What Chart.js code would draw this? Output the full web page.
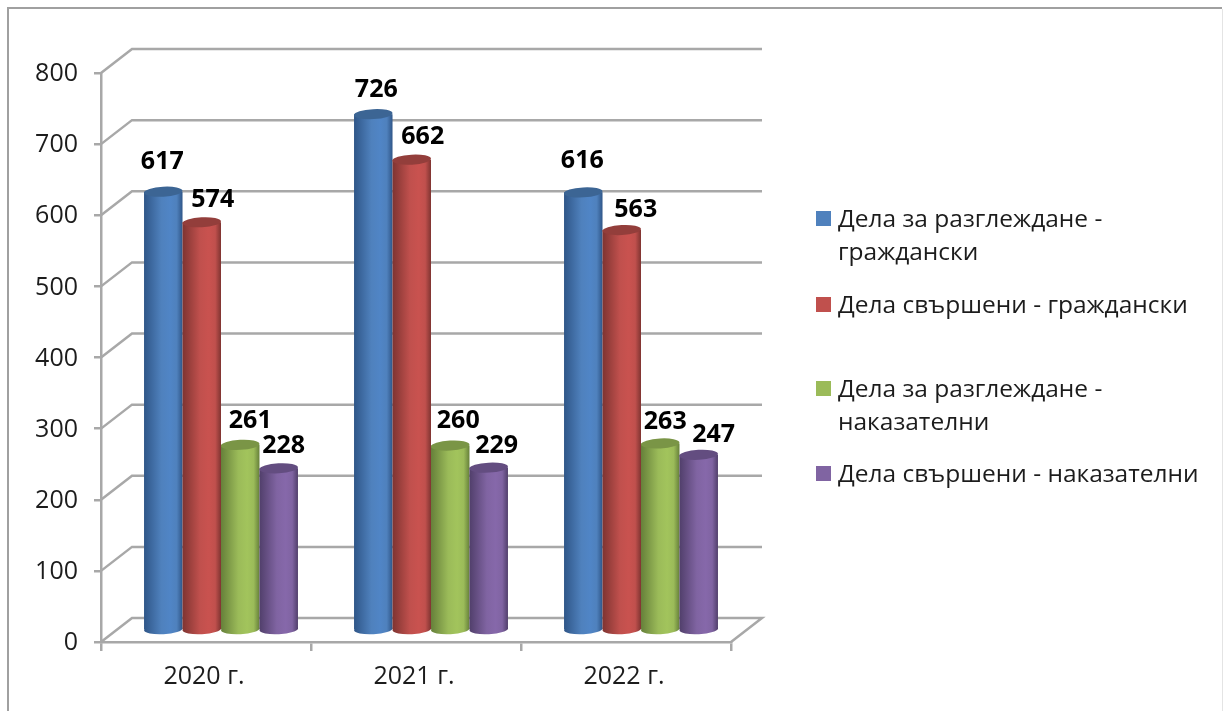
<!DOCTYPE html>
<html><head><meta charset="utf-8">
<script src="https://cdn.jsdelivr.net/npm/chart.js@4"></script>
<style>html,body{margin:0;padding:0;background:#fff}canvas{display:block}</style>
</head><body><div style="width:1225px;height:711px;position:relative"><canvas id="c"></canvas></div>
<script>
const categories = ['2020 г.', '2021 г.', '2022 г.'];
const civilReview = [617, 726, 616];
const civilDone = [574, 662, 563];
const criminalReview = [261, 260, 263];
const criminalDone = [228, 229, 247];
const yTicks = [0, 100, 200, 300, 400, 500, 600, 700, 800];
const seriesNames = ['Дела за разглеждане - граждански', 'Дела свършени - граждански', 'Дела за разглеждане - наказателни', 'Дела свършени - наказателни'];
const legendLines = [['Дела за разглеждане -', 'граждански'], ['Дела свършени - граждански'], ['Дела за разглеждане -', 'наказателни'], ['Дела свършени - наказателни']];
const legendY = [220, 306, 390, 475];
const baseColors = ['#4F81BD', '#C0504D', '#9BBB59', '#8064A2'];
const lightColors = ['#5085c6', '#c9524f', '#a2c45c', '#8668aa'];
const darkEdge = ['#2f5688', '#7f3431', '#66803a', '#513f6b'];
const topColors = ['#3c6594', '#933e3b', '#7a9546', '#634d80'];
const labelOffsets = [
  [[-1,-30],[3,-24],[-1,-31]],
  [[11,-22],[11,-23],[14,-20]],
  [[10,-24],[8,-25],[5,-22]],
  [[5,-22],[8,-22],[15,-20]]
];
const FONT = '"Open Sans", sans-serif';
const GRID = '#a8a8a8', TEXT = '#1c1c1c';
const depth = {x: 31, y: 24}, shift = {x: 15, y: -11.5};

const scene = {
  id: 'scene',
  beforeDraw(chart) {
    const {ctx, chartArea: a, scales: {y}} = chart;
    ctx.save();
    ctx.fillStyle = '#fff'; ctx.fillRect(0, 0, chart.width, chart.height);
    ctx.strokeStyle = '#a0a0a0'; ctx.lineWidth = 2;
    ctx.beginPath(); ctx.moveTo(8, 711); ctx.lineTo(8, 8); ctx.lineTo(1222, 8); ctx.stroke();
    ctx.strokeStyle = '#e4e4e4'; ctx.lineWidth = 1;
    ctx.beginPath(); ctx.moveTo(1222.5, 9); ctx.lineTo(1222.5, 711); ctx.stroke();
    ctx.strokeStyle = GRID; ctx.lineWidth = 2.5;
    yTicks.forEach(v => {
      const py = y.getPixelForValue(v);
      ctx.beginPath();
      ctx.moveTo(a.left, py);
      ctx.lineTo(a.left + depth.x, py - depth.y);
      ctx.lineTo(a.right + depth.x, py - depth.y);
      if (v === 0) ctx.lineTo(a.right, py);
      ctx.stroke();
    });
    ctx.restore();
  },
  beforeDatasetsDraw(chart) {
    const {ctx} = chart;
    const metas = chart.getSortedVisibleDatasetMetas();
    const ry = 5, tilt = -0.055;
    ctx.save();
    ctx.translate(shift.x, shift.y);
    metas.forEach((meta, i) => {
      meta.data.forEach(bar => {
        const {x, y, base, width} = bar.getProps(['x','y','base','width'], true);
        const l = x - width/2, r = x + width/2;
        const g = ctx.createLinearGradient(l, 0, r, 0);
        g.addColorStop(0, darkEdge[i]);
        g.addColorStop(0.45, baseColors[i]);
        g.addColorStop(0.68, lightColors[i]);
        g.addColorStop(0.85, baseColors[i]);
        g.addColorStop(1, darkEdge[i]);
        ctx.fillStyle = g;
        ctx.beginPath(); ctx.ellipse(x, base, width/2, ry, tilt, 0, Math.PI*2); ctx.fill();
        bar.options = Object.assign({}, bar.options, {backgroundColor: g, borderWidth: 0});
        bar.draw(ctx);
        ctx.fillStyle = topColors[i];
        ctx.beginPath(); ctx.ellipse(x, y, width/2, ry, tilt, 0, Math.PI*2); ctx.fill();
      });
    });
    ctx.restore();
    ctx.save();
    ctx.font = 'bold 25px ' + FONT;
    ctx.fillStyle = '#000';
    ctx.textAlign = 'center'; ctx.textBaseline = 'middle';
    metas.forEach((meta, i) => {
      meta.data.forEach((bar, j) => {
        const v = chart.data.datasets[meta.index].data[j];
        const o = labelOffsets[i][j];
        ctx.fillText(v, bar.x + shift.x + o[0], bar.y + shift.y + o[1]);
      });
    });
    ctx.restore();
    return false;
  },
  afterDraw(chart) {
    const {ctx} = chart;
    ctx.save();
    ctx.textBaseline = 'middle'; ctx.textAlign = 'left';
    ctx.font = '24.5px ' + FONT;
    legendLines.forEach((lines, i) => {
      const y0 = legendY[i];
      ctx.fillStyle = baseColors[i];
      ctx.fillRect(816, y0 - 9, 15, 15);
      ctx.fillStyle = TEXT;
      lines.forEach((t, k) => ctx.fillText(t, 838, y0 + k * 33));
    });
    ctx.restore();
  }
};

const series = [civilReview, civilDone, criminalReview, criminalDone];
new Chart(document.getElementById('c'), {
  type: 'bar',
  data: {
    labels: categories,
    datasets: series.map((d, i) => ({label: seriesNames[i], data: d, backgroundColor: baseColors[i], categoryPercentage: 0.733, barPercentage: 1}))
  },
  plugins: [scene],
  options: {
    responsive: true, maintainAspectRatio: false, animation: false,
    layout: {padding: {left: 0, right: 494, top: 73, bottom: 0}},
    plugins: {legend: {display: false}, tooltip: {enabled: false}},
    scales: {
      x: {
        grid: {offset: true, drawOnChartArea: false, drawTicks: true, tickLength: 9, color: GRID, lineWidth: 2.5},
        border: {color: GRID, width: 2.5},
        ticks: {font: {family: FONT, size: 25}, color: TEXT, padding: 11, maxRotation: 0, labelOffset: -2},
        afterFit(s) { s.height = 69; }
      },
      y: {
        min: 0, max: 800,
        grid: {drawOnChartArea: false, drawTicks: true, tickLength: 7, color: GRID, lineWidth: 2.5},
        border: {color: GRID, width: 2.5},
        ticks: {stepSize: 100, font: {family: FONT, size: 25}, color: TEXT, padding: 16, labelOffset: 1},
        afterFit(s) { s.width = 101; }
      }
    }
  }
});
</script></body></html>
